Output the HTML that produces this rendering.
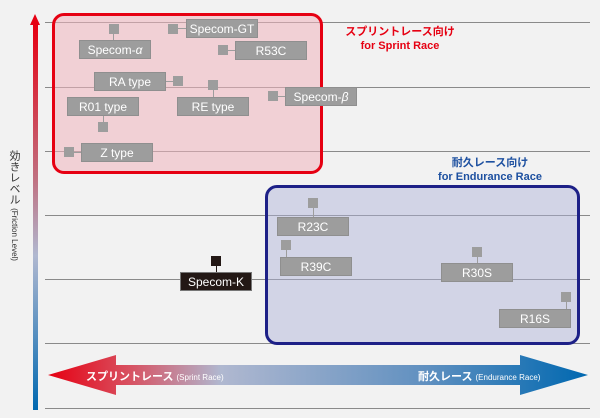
<!DOCTYPE html>
<html><head><meta charset="utf-8"><style>
body{margin:0;width:600px;height:418px;background:#f2f2f2;position:relative;overflow:hidden;font-family:"Liberation Sans","Noto Sans CJK JP",sans-serif}
.a{position:absolute}
.hl{position:absolute;left:45px;width:545px;height:1px;background:#8a8a8a}
.b{position:absolute;width:72px;height:19px;background:#9d9d9d;color:#fff;font-size:12px;line-height:19px;text-align:center;border:1px solid #8f8f8f;box-sizing:border-box}
.s{position:absolute;width:10px;height:10px;background:#9d9d9d}
.c{position:absolute;background:#9d9d9d}
</style></head><body>
<div class="hl" style="top:22px"></div>
<div class="hl" style="top:87px"></div>
<div class="hl" style="top:151px"></div>
<div class="hl" style="top:215px"></div>
<div class="hl" style="top:279px"></div>
<div class="hl" style="top:343px"></div>
<div class="hl" style="top:408px"></div>
<!-- vertical arrow -->
<div class="a" style="left:33px;top:24px;width:5px;height:386px;background:linear-gradient(#e60012,#c07080 40%,#b0b8d0 60%,#0068b0)"></div>
<div class="a" style="left:30px;top:14px;width:0;height:0;border-left:5.5px solid transparent;border-right:5.5px solid transparent;border-bottom:11px solid #e60012"></div>
<div class="a" style="left:6px;top:150px;writing-mode:vertical-rl;font-size:11px;color:#333">効きレベル <span style="font-size:8px">(Friction Level)</span></div>
<!-- boxes -->
<div class="a" style="left:52px;top:13px;width:271px;height:161px;box-sizing:border-box;border:3px solid #e60012;border-radius:12px;background:rgba(240,180,190,.55)"></div>
<div class="a" style="left:265px;top:185px;width:315px;height:160px;box-sizing:border-box;border:3px solid #1d2087;border-radius:12px;background:rgba(170,175,215,.45)"></div>
<div class="a" style="left:330px;top:25px;width:140px;text-align:center;color:#e60012;font-size:11px;font-weight:bold;line-height:14px">スプリントレース向け<br>for Sprint Race</div>
<div class="a" style="left:410px;top:156px;width:160px;text-align:center;color:#1d50a0;font-size:11px;font-weight:bold;line-height:14px">耐久レース向け<br>for Endurance Race</div>
<!-- red group -->
<div class="s" style="left:109px;top:24px"></div><div class="c" style="left:113px;top:34px;width:1px;height:6px"></div><div class="b" style="left:79px;top:40px">Specom-<i>α</i></div>
<div class="s" style="left:168px;top:24px"></div><div class="c" style="left:178px;top:28px;width:8px;height:1px"></div><div class="b" style="left:186px;top:19px">Specom-GT</div>
<div class="s" style="left:218px;top:45px"></div><div class="c" style="left:228px;top:50px;width:7px;height:1px"></div><div class="b" style="left:235px;top:41px">R53C</div>
<div class="b" style="left:94px;top:72px">RA type</div><div class="c" style="left:166px;top:81px;width:7px;height:1px"></div><div class="s" style="left:173px;top:76px"></div>
<div class="s" style="left:208px;top:80px"></div><div class="c" style="left:213px;top:90px;width:1px;height:7px"></div><div class="b" style="left:177px;top:97px">RE type</div>
<div class="s" style="left:268px;top:91px"></div><div class="c" style="left:278px;top:96px;width:7px;height:1px"></div><div class="b" style="left:285px;top:87px">Specom-<i>β</i></div>
<div class="b" style="left:67px;top:97px">R01 type</div><div class="c" style="left:103px;top:116px;width:1px;height:6px"></div><div class="s" style="left:98px;top:122px"></div>
<div class="s" style="left:64px;top:147px"></div><div class="c" style="left:74px;top:152px;width:7px;height:1px"></div><div class="b" style="left:81px;top:143px">Z type</div>
<!-- blue group -->
<div class="s" style="left:308px;top:198px"></div><div class="c" style="left:313px;top:208px;width:1px;height:9px"></div><div class="b" style="left:277px;top:217px">R23C</div>
<div class="s" style="left:281px;top:240px"></div><div class="c" style="left:286px;top:250px;width:1px;height:7px"></div><div class="b" style="left:280px;top:257px">R39C</div>
<div class="s" style="left:472px;top:247px"></div><div class="c" style="left:477px;top:257px;width:1px;height:6px"></div><div class="b" style="left:441px;top:263px">R30S</div>
<div class="s" style="left:561px;top:292px"></div><div class="c" style="left:566px;top:302px;width:1px;height:7px"></div><div class="b" style="left:499px;top:309px">R16S</div>
<div class="s" style="left:211px;top:256px;background:#231815"></div><div class="c" style="left:216px;top:266px;width:1px;height:6px;background:#231815"></div><div class="b" style="left:180px;top:272px;background:#231815;border-color:#777">Specom-K</div>
<!-- horizontal arrow -->
<svg class="a" style="left:0;top:0" width="600" height="418">
<defs><linearGradient id="g" x1="48" x2="588" y1="0" y2="0" gradientUnits="userSpaceOnUse">
<stop offset="0" stop-color="#e60012"/><stop offset=".15" stop-color="#d85060"/><stop offset=".32" stop-color="#b0b8d0"/><stop offset=".7" stop-color="#6090c0"/><stop offset="1" stop-color="#0068b0"/></linearGradient></defs>
<polygon points="48,375 116,355 116,365 520,365 520,355 588,375 520,395 520,385 116,385 116,395" fill="url(#g)"/>
<text x="86" y="380" fill="#fff" font-size="11" font-weight="bold" font-family="Liberation Sans,Noto Sans CJK JP,sans-serif">スプリントレース <tspan font-size="8" font-weight="normal">(Sprint Race)</tspan></text>
<text x="418" y="380" fill="#fff" font-size="11" font-weight="bold" font-family="Liberation Sans,Noto Sans CJK JP,sans-serif">耐久レース <tspan font-size="8" font-weight="normal">(Endurance Race)</tspan></text>
</svg>
</body></html>
